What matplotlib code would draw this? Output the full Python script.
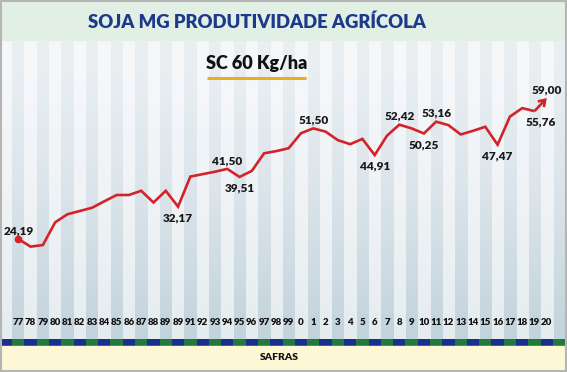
import numpy as np
import matplotlib
matplotlib.use("Agg")
import matplotlib.pyplot as plt
from matplotlib.patches import Rectangle
from matplotlib.colors import to_rgb

# ---------------- data ----------------
safras = ["77", "78", "79", "80", "81", "82", "83", "84", "85", "86", "87", "88",
          "89", "89", "91", "92", "93", "94", "95", "96", "97", "98", "99", "0",
          "1", "2", "3", "4", "5", "6", "7", "8", "9", "10", "11", "12", "13",
          "14", "15", "16", "17", "18", "19", "20"]
produtividade = [24.19, 22.3, 22.7, 28.3, 30.3, 31.1, 31.9, 33.5, 35.05, 35.05,
                 36.1, 33.2, 36.1, 32.17, 39.6, 40.2, 40.8, 41.50, 39.51, 41.0,
                 45.35, 45.9, 46.6, 50.3, 51.50, 50.7, 48.6, 47.6, 48.9, 44.91,
                 49.7, 52.42, 51.5, 50.25, 53.16, 52.3, 50.0, 50.9, 51.9, 47.47,
                 54.4, 56.5, 55.76, 59.00]
rotulos_idx = [0, 13, 17, 18, 24, 29, 31, 33, 34, 39, 42, 43]
rotulos_pos = ["above", "below", "above", "below", "above", "below",
               "above", "below", "above", "below", "below", "above"]

titulo = "SOJA MG PRODUTIVIDADE AGRÍCOLA"
subtitulo = "SC 60 Kg/ha"
eixo_x = "SAFRAS"

# ---------------- style ----------------
FONT = ["Lato", "DejaVu Sans"]
W, H = 567, 372
fig = plt.figure(figsize=(W / 100, H / 100), dpi=100)
fig.patch.set_facecolor("white")

# data axes
ax = fig.add_axes([0, 0, 1, 1])
ax.patch.set_alpha(0)
X0, X1 = -1.489, 44.646
Y0, Y1 = -8.65, 83.2
ax.set_xlim(X0, X1)
ax.set_ylim(Y0, Y1)
ax.axis("off")
ax.set_zorder(1)


def py(px):
    """pixel row (from top) -> data y"""
    return Y1 - px / H * (Y1 - Y0)


x = np.arange(len(safras))
y = np.array(produtividade)

# striped background with vertical gradient
cols = np.arange(-1, len(safras) + 1)
nrow = 120
t = np.linspace(0, 1, nrow) ** 1.4
dark_top, dark_bot = np.array(to_rgb("#eaeff3")), np.array(to_rgb("#c2d3db"))
lite_top, lite_bot = np.array(to_rgb("#f6f8fa")), np.array(to_rgb("#e5ecf0"))
img = np.zeros((nrow, len(cols), 3))
for j, c in enumerate(cols):
    a, b = (dark_top, dark_bot) if c % 2 == 0 else (lite_top, lite_bot)
    img[:, j, :] = a[None, :] * (1 - t[:, None]) + b[None, :] * t[:, None]
ax.imshow(img, extent=(cols[0] - 0.5, cols[-1] + 0.5, py(339), py(40)),
          aspect="auto", interpolation="nearest", zorder=0)

# bottom colored band
band_colors = ["#1f7a3c" if c % 2 == 0 else "#1b2f8e" for c in cols]
ax.bar(cols, py(339) - py(346), bottom=py(346), width=1.0, color=band_colors,
       linewidth=0, zorder=1)

# line
ax.plot(x[:-1], y[:-1], color="#d3222a", lw=1.9, solid_joinstyle="miter",
        solid_capstyle="butt", zorder=4)
ax.plot(x[0], y[0], "o", color="#d3222a", ms=4.5, zorder=4)
ax.annotate("", xy=(x[-1], y[-1]), xytext=(x[-2], y[-2]),
            arrowprops=dict(arrowstyle="->,head_length=0.45,head_width=0.3",
                            color="#d3222a", lw=1.9, shrinkA=0, shrinkB=0,
                            joinstyle="miter", capstyle="butt"),
            zorder=4)

# value labels
for i, pos in zip(rotulos_idx, rotulos_pos):
    txt = f"{produtividade[i]:.2f}".replace(".", ",")
    dx = 4.5 if i == 42 else 0
    dy = 6.0 if pos == "above" else -8.0
    ax.annotate(txt, (x[i], y[i]), xytext=(dx, dy), textcoords="offset points",
                ha="center", va="center", fontsize=8.5, fontweight="heavy",
                family=FONT, color="#1a1a1a", zorder=6)

# x labels
for i, s in enumerate(safras):
    ax.text(x[i], py(322), s, ha="center", va="center", fontsize=7,
            fontweight="heavy", family=FONT, color="#111111", zorder=6)

# texts / decoration in pixel space
top = fig.add_axes([0, 0, 1, 1])
top.set_xlim(0, W)
top.set_ylim(H, 0)
top.axis("off")
top.patch.set_alpha(0)
top.set_zorder(2)
top.add_patch(Rectangle((0, 0), W, 40, color="#e2efe4", zorder=0))
top.add_patch(Rectangle((0, 346), W, 26, color="#fdf7d6", zorder=0))
top.text(257, 22, titulo, ha="center", va="center", fontsize=13.3,
         fontweight="heavy", family=FONT, color="#1c3a8c")
top.text(257, 63, subtitulo, ha="center", va="center", fontsize=13,
         fontweight="heavy", family=FONT, color="#111111")
top.plot([207, 306], [78, 78], color="#e8ae1c", lw=2.2, solid_capstyle="butt")
top.text(279, 358, eixo_x, ha="center", va="center", fontsize=7.5,
         fontweight="heavy", family=FONT, color="#111111")
top.add_patch(Rectangle((0.8, 0.8), W - 1.6, H - 1.6, fill=False,
                        edgecolor="#b5b5b5", lw=1.5))

fig.savefig("out.png", dpi=100, facecolor="white")
